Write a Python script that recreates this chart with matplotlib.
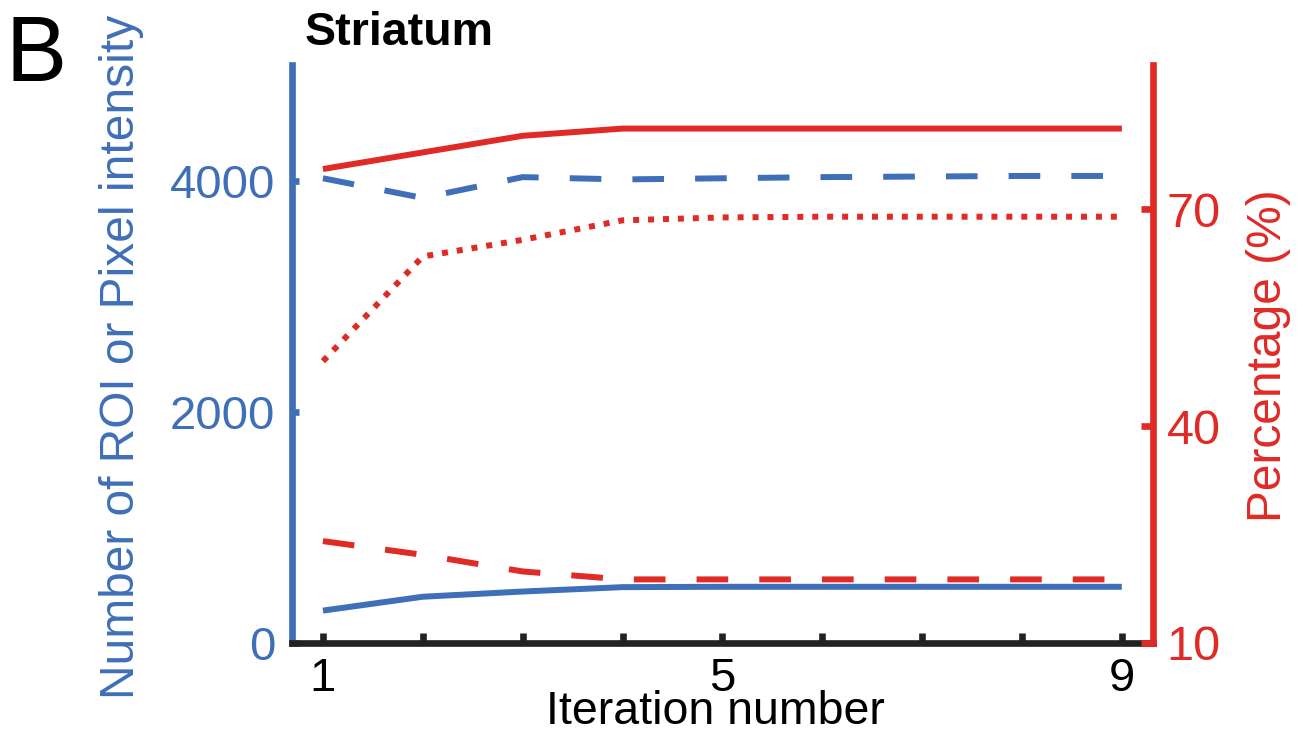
import matplotlib
matplotlib.use("Agg")
import matplotlib.pyplot as plt

plt.rcParams["font.family"] = ["Liberation Sans", "DejaVu Sans"]

BLUE = "#3f6fb8"
RED = "#e02a26"

iterations = [1, 2, 3, 4, 5, 6, 7, 8, 9]

# left axis (count / intensity)
blue_dashed = [4020, 3850, 4030, 4010, 4020, 4030, 4035, 4040, 4040]
blue_solid = [280, 400, 445, 483, 486, 486, 486, 486, 486]

# right axis (percentage)
red_solid = [75.6, 77.9, 80.2, 81.2, 81.2, 81.2, 81.2, 81.2, 81.2]
red_dotted = [49.0, 63.5, 65.8, 68.5, 68.9, 69.0, 69.0, 69.0, 69.0]
red_dashed = [24.1, 22.2, 19.9, 18.8, 18.8, 18.8, 18.8, 18.8, 18.8]

left_ticks = [0, 2000, 4000]
right_ticks = [10, 40, 70]
x_ticklabels = ["1", "", "", "", "5", "", "", "", "9"]

LW = 4.3
SW = 4.8
FS = 34

fig = plt.figure(figsize=(13.07, 7.36), dpi=100)
ax = fig.add_axes([0.2234, 0.1264, 0.882 - 0.2234, 0.9117 - 0.1264])
ax2 = ax.twinx()

ax.plot(iterations, blue_dashed, color=BLUE, lw=LW, dashes=(5.3, 5.2), dash_capstyle="butt")
ax.plot(iterations, blue_solid, color=BLUE, lw=LW, solid_capstyle="butt")
ax2.plot(iterations, red_solid, color=RED, lw=LW, solid_capstyle="butt")
ax2.plot(iterations, red_dotted, color=RED, lw=LW, dashes=(1, 1.5), dash_capstyle="butt")
ax2.plot(iterations, red_dashed, color=RED, lw=LW, dashes=(5.3, 5.2), dash_capstyle="butt")

ax.set_xlim(0.69, 9.31)
ax.set_ylim(0, 5000)
ax2.set_ylim(10, 90)

for s in ["top", "right"]:
    ax.spines[s].set_visible(False)
for s in ["top", "left", "bottom"]:
    ax2.spines[s].set_visible(False)
ax.spines["left"].set_color(BLUE)
ax.spines["left"].set_linewidth(SW)
ax.spines["bottom"].set_color("#222222")
ax.spines["bottom"].set_linewidth(SW)
ax.spines["bottom"].set_zorder(5)
ax2.spines["right"].set_color(RED)
ax2.spines["right"].set_linewidth(SW)

ax.set_xticks(iterations)
ax.set_xticklabels(x_ticklabels)
ax.tick_params(axis="x", direction="in", length=7, width=SW, color="#222222",
               labelsize=FS, pad=10, labelcolor="black")
ax.set_yticks(left_ticks)
ax.tick_params(axis="y", direction="in", length=5, width=SW, color=BLUE,
               labelsize=FS, pad=12, labelcolor=BLUE)
ax2.set_yticks(right_ticks)
ax2.tick_params(axis="y", direction="in", length=9, width=SW, color=RED,
                labelsize=35, pad=10, labelcolor=RED)

ax.set_xlabel("Iteration number", fontsize=33.5)
ax.xaxis.set_label_coords(0.4925, -0.141)
ax.xaxis.label.set_va("baseline")
ax.set_ylabel("Number of ROI or Pixel intensity", fontsize=34.5, color=BLUE)
ax.yaxis.set_label_coords(-0.172, 0.495)
ax2.set_ylabel("Percentage (%)", fontsize=34.5, color=RED)
ax2.yaxis.set_label_coords(1.108, 0.498)

fig.text(0.2334, 0.939, "Striatum", fontsize=33.5, fontweight="bold", ha="left", va="baseline")
fig.text(0.004, 0.89, "B", fontsize=66, ha="left", va="baseline")

fig.savefig("out.png", dpi=100)
